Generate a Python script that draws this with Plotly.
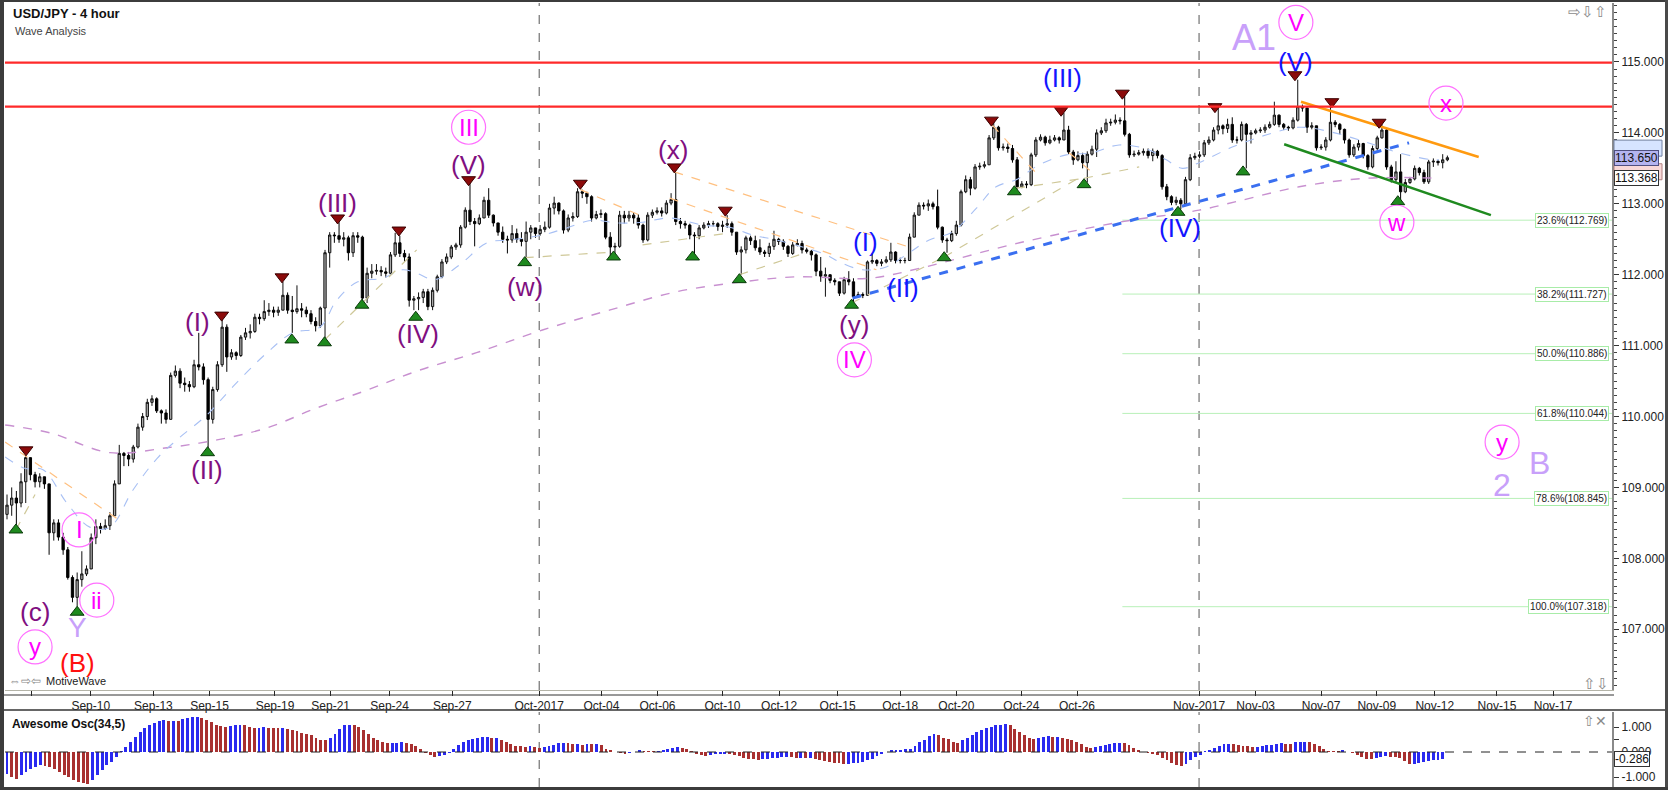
import plotly.graph_objects as go

W, H = 1668, 790
FONT = "Liberation Sans, Arial, sans-serif"

# ---------------- price data (4h bars, index = bar number) ----------------
open0 = 108.62
closes = [
 108.75,108.85,108.78,109.08,109.42,109.18,109.08,109.15,109.05,108.36,
 108.50,108.30,108.12,107.73,107.45,107.70,107.78,107.85,108.29,108.45,
 108.42,108.46,108.60,109.05,109.48,109.45,109.40,109.57,109.85,110.00,
 110.20,110.25,110.08,110.05,109.96,110.58,110.64,110.47,110.45,110.42,
 110.73,110.70,110.52,109.96,110.38,110.73,111.26,110.84,110.90,110.86,
 111.12,111.18,111.20,111.40,111.38,111.48,111.50,111.47,111.50,111.71,
 111.50,111.48,111.52,111.50,111.45,111.34,111.28,111.53,112.31,112.56,
 112.55,112.50,112.52,112.31,112.55,112.53,111.67,112.02,112.05,112.06,
 112.04,112.02,112.28,112.45,112.30,112.25,111.64,111.66,111.68,111.76,
 111.55,111.78,111.97,112.18,112.25,112.39,112.42,112.67,112.91,112.75,
 112.72,112.80,113.05,112.84,112.73,112.60,112.50,112.49,112.58,112.50,
 112.47,112.60,112.66,112.58,112.64,112.67,112.94,113.01,112.90,112.63,
 112.80,112.82,113.17,113.15,113.10,112.80,112.85,112.86,112.53,112.39,
 112.40,112.84,112.80,112.84,112.80,112.70,112.49,112.84,112.88,112.90,
 112.87,113.01,113.06,112.75,112.72,112.70,112.56,112.55,112.66,112.70,
 112.72,112.72,112.68,112.70,112.72,112.60,112.32,112.35,112.52,112.48,
 112.38,112.32,112.30,112.40,112.50,112.47,112.40,112.30,112.42,112.44,
 112.35,112.33,112.28,112.05,111.98,112.00,111.92,111.90,111.74,111.93,
 111.90,111.69,111.72,111.71,112.18,112.20,112.16,112.18,112.21,112.32,
 112.20,112.20,112.20,112.53,112.84,112.98,112.97,113.00,112.96,112.67,
 112.49,112.48,112.58,112.70,113.17,113.34,113.22,113.52,113.53,113.55,
 113.93,114.08,113.79,113.80,113.78,113.62,113.24,113.28,113.27,113.69,
 113.90,113.94,113.86,113.90,113.93,113.90,114.04,113.73,113.62,113.68,
 113.58,113.70,113.77,114.00,114.03,114.14,114.15,114.18,114.17,113.98,
 113.69,113.70,113.72,113.74,113.68,113.74,113.68,113.24,113.10,113.02,
 113.05,113.00,113.34,113.65,113.67,113.69,113.86,113.90,114.04,114.10,
 114.06,114.12,113.90,113.90,114.12,113.98,114.00,114.03,114.04,114.08,
 114.12,114.25,114.12,114.08,114.07,114.18,114.37,114.35,114.08,114.10,
 113.79,113.80,113.90,114.15,114.12,114.05,113.90,113.69,113.80,113.85,
 113.68,113.52,113.78,113.93,114.04,113.52,113.34,113.45,113.17,113.30,
 113.35,113.50,113.44,113.31,113.59,113.60,113.58,113.62,113.65]
highs = [
 108.90,109.00,108.95,109.20,109.45,109.35,109.22,109.20,109.12,109.00,
 108.55,108.55,108.36,108.16,107.76,107.80,108.10,107.90,108.35,108.55,
 108.50,108.55,108.65,109.10,109.60,109.50,109.50,109.60,109.90,110.05,
 110.25,110.30,110.27,110.10,110.10,110.62,110.72,110.68,110.55,110.50,
 110.80,111.18,110.75,110.55,110.42,110.78,111.40,111.30,110.95,110.92,
 111.15,111.25,111.30,111.45,111.45,111.64,111.60,111.55,111.55,111.90,
 111.75,111.70,111.85,111.60,111.55,111.50,111.40,111.55,112.35,112.60,
 112.60,112.74,112.60,112.55,112.60,112.60,112.55,112.10,112.15,112.15,
 112.12,112.10,112.32,112.59,112.55,112.35,112.30,111.70,111.75,111.80,
 111.80,111.82,112.00,112.22,112.30,112.42,112.45,112.70,112.95,113.30,
 112.80,112.85,113.10,113.22,112.85,112.70,112.68,112.55,112.70,112.65,
 112.60,112.75,112.70,112.62,112.70,112.75,113.00,113.10,113.02,112.92,
 112.85,112.88,113.22,113.20,113.17,113.12,112.90,112.92,112.88,112.60,
 112.45,112.90,112.90,112.90,112.88,112.85,112.72,112.88,112.92,112.95,
 112.95,113.05,113.15,113.45,112.80,112.76,112.72,112.60,112.70,112.74,
 112.76,112.76,112.74,112.76,112.84,112.75,112.60,112.40,112.55,112.55,
 112.55,112.50,112.35,112.45,112.62,112.52,112.50,112.42,112.46,112.50,
 112.48,112.38,112.35,112.30,112.25,112.10,111.98,111.95,111.90,111.97,
 112.05,111.95,111.76,111.75,112.20,112.30,112.22,112.22,112.26,112.45,
 112.33,112.24,112.24,112.58,112.88,113.02,113.02,113.06,113.03,113.20,
 112.68,112.52,112.62,112.76,113.20,113.40,113.38,113.56,113.58,113.60,
 113.97,114.18,114.10,113.85,113.85,113.83,113.66,113.32,113.32,113.72,
 113.94,113.98,113.96,113.96,113.97,113.95,114.28,114.10,113.76,113.74,
 113.72,113.74,113.82,114.05,114.08,114.20,114.20,114.26,114.22,114.53,
 114.00,113.75,113.76,113.78,113.78,113.78,113.76,113.70,113.28,113.12,
 113.10,113.08,113.38,113.70,113.72,113.74,113.90,113.95,114.08,114.37,
 114.12,114.20,114.22,113.95,114.16,114.14,114.04,114.06,114.08,114.12,
 114.16,114.44,114.26,114.14,114.10,114.22,114.75,114.40,114.36,114.15,
 114.08,113.84,113.94,114.44,114.18,114.14,114.06,113.92,113.84,113.90,
 113.86,113.70,113.82,113.96,114.15,114.06,113.55,113.60,113.70,113.35,
 113.38,113.54,113.52,113.48,113.62,113.64,113.62,113.70,113.68]
lows = [
 108.55,108.60,108.45,108.72,108.78,109.10,109.00,109.00,108.98,108.05,
 108.25,108.25,108.05,107.70,107.38,107.32,107.60,107.75,107.85,108.20,
 108.35,108.40,108.40,108.60,109.05,109.30,109.30,109.35,109.55,109.80,
 109.95,110.15,110.05,109.90,109.90,109.96,110.55,110.40,110.35,110.35,
 110.40,110.65,110.45,109.53,109.90,110.35,110.70,110.63,110.80,110.80,
 110.84,111.08,111.10,111.18,111.30,111.35,111.42,111.40,111.42,111.50,
 111.45,111.18,111.45,111.40,111.40,111.30,111.20,111.25,111.08,112.10,
 112.45,112.45,112.40,112.20,112.25,112.45,111.57,111.60,111.95,112.00,
 111.98,111.96,112.00,112.25,112.25,112.18,111.55,111.50,111.50,111.60,
 111.50,111.50,111.75,111.95,112.15,112.22,112.35,112.38,112.65,112.70,
 112.40,112.70,112.80,112.80,112.68,112.55,112.45,112.30,112.45,112.45,
 112.40,112.20,112.50,112.52,112.55,112.60,112.65,112.85,112.85,112.58,
 112.60,112.75,112.80,113.08,113.00,112.75,112.78,112.80,112.50,112.25,
 112.30,112.38,112.72,112.75,112.72,112.65,112.45,112.47,112.80,112.85,
 112.82,112.85,112.98,112.70,112.65,112.65,112.50,112.25,112.50,112.64,
 112.66,112.68,112.62,112.60,112.66,112.55,112.28,112.00,112.30,112.42,
 112.34,112.28,112.25,112.25,112.35,112.42,112.35,112.25,112.28,112.40,
 112.30,112.30,112.20,111.98,111.90,111.69,111.88,111.85,111.70,111.72,
 111.85,111.60,111.68,111.67,111.70,112.15,112.12,112.12,112.16,112.18,
 112.16,112.16,112.16,112.20,112.53,112.84,112.92,112.90,112.92,112.64,
 112.45,112.31,112.46,112.55,112.68,113.15,113.12,113.20,113.48,113.50,
 113.55,113.90,113.75,113.75,113.72,113.58,113.20,113.22,113.22,113.25,
 113.66,113.88,113.82,113.84,113.88,113.85,113.90,113.70,113.55,113.60,
 113.50,113.30,113.68,113.66,113.97,114.00,114.10,114.12,114.12,113.95,
 113.65,113.66,113.68,113.68,113.64,113.60,113.64,113.20,113.05,112.98,
 112.98,112.92,113.00,113.32,113.62,113.64,113.66,113.83,113.88,113.98,
 113.98,114.00,113.86,113.85,113.88,113.50,113.85,113.98,114.00,114.00,
 114.06,114.10,114.08,114.04,114.03,114.05,114.16,114.30,114.00,114.05,
 113.75,113.76,113.75,113.88,114.08,113.98,113.85,113.65,113.66,113.75,
 113.64,113.48,113.50,113.75,113.92,113.48,113.30,113.30,113.05,113.15,
 113.28,113.33,113.40,113.28,113.28,113.52,113.54,113.50,113.60]

# Awesome oscillator (34,5) values, one per bar
ao = [
 -0.87,-1.0,-1.07,-0.93,-0.8,-0.67,-0.6,-0.53,-0.56,-0.6,
 -0.67,-0.8,-0.93,-1.0,-1.13,-1.2,-1.24,-1.27,-1.13,-0.93,
 -0.73,-0.53,-0.4,-0.2,0.02,0.2,0.4,0.6,0.8,0.97,
 1.07,1.16,1.23,1.27,1.26,1.26,1.25,1.32,1.37,1.4,
 1.41,1.38,1.29,1.2,1.07,1.03,1.0,1.03,1.07,1.1,
 1.07,1.0,0.97,0.98,0.99,0.97,0.96,0.95,0.96,0.93,
 0.87,0.83,0.77,0.73,0.67,0.57,0.5,0.49,0.56,0.73,
 0.93,1.07,1.1,1.07,1.0,0.89,0.73,0.57,0.49,0.4,
 0.36,0.37,0.38,0.39,0.37,0.33,0.23,0.13,-0.03,-0.13,
 -0.2,-0.17,-0.1,-0.03,0.13,0.27,0.4,0.49,0.53,0.56,
 0.6,0.61,0.56,0.56,0.49,0.4,0.31,0.24,0.23,0.22,
 0.23,0.2,0.17,0.2,0.23,0.29,0.36,0.37,0.36,0.31,
 0.31,0.3,0.33,0.32,0.33,
 0.27,0.13,0.07,0.0,-0.04,-0.07,-0.04,0.0,0.07,0.04,
 0.03,0.01,0.03,0.07,0.12,0.16,0.19,0.18,0.11,0.03,
 -0.07,-0.13,-0.17,-0.13,-0.09,-0.07,-0.06,-0.09,-0.11,-0.17,
 -0.24,-0.27,-0.29,-0.31,-0.29,-0.27,-0.25,-0.24,-0.2,-0.2,
 -0.21,-0.23,-0.23,-0.24,-0.24,-0.27,-0.31,-0.36,-0.4,-0.43,
 -0.45,-0.49,-0.47,-0.45,-0.43,-0.39,-0.33,-0.27,-0.17,-0.09,
 0.0,0.07,0.07,0.09,0.11,0.13,0.23,0.4,0.49,0.63,
 0.73,0.69,0.57,0.51,0.4,0.37,0.47,0.57,0.67,0.8,
 0.89,0.96,1.0,1.07,1.09,1.11,1.07,0.93,0.8,0.67,
 0.57,0.51,0.56,0.6,0.63,0.6,0.6,0.57,0.53,0.49,
 0.4,0.31,0.2,0.17,0.2,0.23,0.27,0.33,0.37,0.37,
 0.36,0.27,0.17,0.09,0.0,-0.03,-0.07,-0.13,-0.23,-0.33,
 -0.44,-0.53,-0.57,-0.47,-0.33,-0.2,
 -0.13,0.03,0.09,0.17,0.25,0.31,0.32,0.31,0.28,0.25,
 0.23,0.22,0.22,0.24,0.28,0.29,0.32,0.36,0.33,0.31,
 0.4,0.41,0.41,0.4,0.33,0.23,0.13,0.04,0.03,0.02,
 0.07,0.0,-0.04,-0.11,-0.2,-0.27,-0.28,-0.23,-0.2,-0.17,
 -0.18,-0.2,-0.23,-0.36,-0.49,-0.47,-0.44,-0.4,-0.36,-0.33,
 -0.31,-0.28]
ao_last_bar = 307  # bar index of the last oscillator column

# moving averages (bar index, price)
ma_fast_x = [-0.4,3.8,7.7,12.8,17.7,22.0,26.9,32.1,36.3,42.7,48.3,55.6,61.1,66.9,70.5,75.0,80.3,84.6,87.6,
             91.5,96.8,102.6,107.5,114.5,119.7,125.2,130.3,135.9,141.7,148.7,154.5,159.4,164.5,170.1,175.2,
             178.0,182.9,188.0,192.9,197.2,202.1,207.3,211.5,215.8,220.7,226.5,232.1,237.8,244.2,247.9,
             251.3,254.9,262.0,269.2,276.3,283.3,290.6,297.6,304.7,306.2]
ma_fast_y = [109.43,109.27,109.25,108.78,108.44,108.44,108.96,109.41,109.67,110.02,110.42,110.90,111.18,111.26,
             111.64,111.90,111.95,112.07,112.02,111.93,112.14,112.45,112.49,112.56,112.66,112.77,112.73,112.74,
             112.80,112.70,112.67,112.56,112.49,112.39,112.28,112.18,112.07,112.11,112.31,112.49,112.60,112.94,
             113.24,113.34,113.55,113.69,113.72,113.83,113.76,113.62,113.50,113.58,113.80,113.97,114.08,114.01,
             113.87,113.72,113.62,113.62]
ma_slow_x = [-0.4,9.2,22.0,34.2,44.9,55.6,66.2,76.9,87.6,100.4,114.5,128.8,143.2,157.3,168.8,184.4,195.1,
             216.5,237.8,254.9,262.8,276.3,290.6,306.2]
ma_slow_y = [109.88,109.77,109.49,109.56,109.67,109.84,110.12,110.37,110.64,110.90,111.22,111.50,111.76,111.90,
             111.97,111.95,112.09,112.45,112.74,112.91,113.03,113.24,113.36,113.36]

# drawn studies: (x0, y0, x1, y1) in bar index / price
orange_dashed = [(-0.4,109.64,24.6,108.51),(122.6,113.20,135.3,112.84),(142.7,113.45,192.9,112.39),
                 (141.7,113.08,185.9,112.07),(210.7,114.11,220.1,113.43),(227.1,113.72,232.1,113.44)]
khaki_dashed = [(1.9,108.40,6.0,108.90),(67.9,111.08,87.6,112.35),(110.7,112.24,129.7,112.32),
                (135.9,112.42,154.5,112.59),(156.6,112.00,169.4,112.28),(180.6,111.60,200.4,112.25),
                (200.4,112.25,230.3,113.41),(215.8,113.22,230.3,113.36),(230.3,113.36,242.1,113.52)]
blue_trend = (180.8,111.67,299.8,113.86)
orange_line = (276.7,114.44,314.7,113.66)
green_line = (273.1,113.84,317.3,112.84)
resistance = [114.99, 114.37]

fib_start = 238.5
fib_levels = [112.769,111.727,110.886,110.044,108.845,107.318]
fib_names = ["23.6%","38.2%","50.0%","61.8%","78.6%","100.0%"]

# swing markers
peak_x = [4.06,45.9,58.8,70.7,83.8,98.7,122.6,142.7,153.6,210.5,225.4,238.5,258.3,275.4,283.3,293.4]
peak_y = [109.53,111.43,111.97,112.80,112.63,113.34,113.29,113.52,112.91,114.18,114.32,114.56,114.37,114.82,114.44,114.15]
trough_x = [1.9,15.0,42.9,60.9,67.9,75.9,87.4,110.7,129.7,146.6,156.6,180.6,200.4,215.4,230.3,250.4,264.3,297.4]
trough_y = [108.40,107.24,109.49,111.08,111.04,111.57,111.40,112.17,112.25,112.25,111.93,111.57,112.24,113.17,113.27,112.88,113.45,113.03]

# wave labels
purple_labels = [("(c)",6.0,107.24),("(I)",40.8,111.33),("(II)",42.7,109.25),("(III)",70.7,113.01),
                 ("(IV)",87.8,111.16),("(V)",98.7,113.55),("(w)",110.7,111.83),("(x)",142.5,113.76),("(y)",181.2,111.29)]
blue_labels = [("(I)",183.5,112.46),("(II)",191.5,111.81),("(III)",225.6,114.77),("(IV)",250.9,112.66),("(V)",275.6,115.0)]
circled_labels = [("I",15.4,108.40),("ii",19.2,107.41),("y",6.0,106.75),("III",98.7,114.08),("IV",181.2,110.80),
                  ("V",275.6,115.56),("x",307.7,114.42),("w",297.2,112.74),("y",319.7,109.64)]
lavender_labels = [("A1",266.7,115.35,36),("Y",15.0,107.03,28),("2",319.7,109.03,32),("B",327.6,109.34,32)]
red_labels = [("(B)",15.0,106.52)]

# axis ticks
tick_pos = [5.3,17.9,31.3,43.3,57.3,69.2,81.8,95.2,113.8,127.1,139.1,153.0,165.1,177.6,191.0,203.0,216.9,
            228.8,254.9,267.0,281.0,292.9,305.3,318.6,330.6]
tick_txt = ["","Sep-10","Sep-13","Sep-15","Sep-19","Sep-21","Sep-24","Sep-27","Oct-2017","Oct-04","Oct-06",
            "Oct-10","Oct-12","Oct-15","Oct-18","Oct-20","Oct-24","Oct-26","Nov-2017","Nov-03","Nov-07",
            "Nov-09","Nov-12","Nov-15","Nov-17"]
month_lines = [113.8, 254.9]
last_price, ma_price = 113.650, 113.368
hidden_tags = [(113.785, "#d6e4ff", "#7080a0"), (113.452, "#f8d8d8", "#b08080")]
ao_last = -0.286

# ---------------- build ----------------
n = min(len(closes), len(highs), len(lows))
closes, highs, lows = closes[:n], highs[:n], lows[:n]
opens = [open0] + closes[:-1]
highs = [max(h, o, c) for h, o, c in zip(highs, opens, closes)]
lows = [min(l, o, c) for l, o, c in zip(lows, opens, closes)]
xs = list(range(n))

def px(x):
    return x / W
def py(y):
    return 1 - y / H

X_RANGE = [-0.43, 343.2]
Y_RANGE = [106.143, 115.832]
XDOM = [px(5), px(1612)]
YDOM_MAIN = [py(690), py(3)]
YDOM_OSC = [py(787), py(712)]

fig = go.Figure()

def seg_trace(segs, color, width, dash):
    xx, yy = [], []
    for (a, b, c, d) in segs:
        xx += [a, c, None]
        yy += [b, d, None]
    return go.Scatter(x=xx, y=yy, mode="lines", line=dict(color=color, width=width, dash=dash),
                      hoverinfo="skip", showlegend=False)

fig.add_trace(go.Scatter(x=ma_slow_x, y=ma_slow_y, mode="lines",
                         line=dict(color="#c890d0", width=1.4, dash="dash", shape="spline"),
                         hoverinfo="skip", showlegend=False))
fig.add_trace(go.Scatter(x=ma_fast_x, y=ma_fast_y, mode="lines",
                         line=dict(color="#a8c0f4", width=1.1, dash="dash", shape="spline"),
                         hoverinfo="skip", showlegend=False))
fig.add_trace(seg_trace(orange_dashed, "#ffc080", 1.2, "dash"))
fig.add_trace(seg_trace(khaki_dashed, "#cfc898", 1.2, "dash"))

fig.add_trace(go.Candlestick(
    x=xs, open=opens, high=highs, low=lows, close=closes,
    increasing=dict(fillcolor="#a8a8a8", line=dict(color="#111111", width=1)),
    decreasing=dict(fillcolor="#000000", line=dict(color="#000000", width=1)),
    whiskerwidth=0, hoverinfo="skip", showlegend=False))

fig.add_trace(seg_trace([blue_trend], "#3a6ff0", 3, "dash"))
fig.add_trace(seg_trace([orange_line], "#ff9a10", 2.5, "solid"))
fig.add_trace(seg_trace([green_line], "#1f8a1f", 2.5, "solid"))

fig.add_trace(go.Scatter(x=peak_x, y=peak_y, mode="markers",
                         marker=dict(symbol="triangle-down", size=12, color="#8b0a0a",
                                     line=dict(color="#3a0000", width=1)),
                         hoverinfo="skip", showlegend=False))
fig.add_trace(go.Scatter(x=trough_x, y=trough_y, mode="markers",
                         marker=dict(symbol="triangle-up", size=12, color="#1e8a1e",
                                     line=dict(color="#0a3a0a", width=1)),
                         hoverinfo="skip", showlegend=False))

# Awesome oscillator
m = len(ao)
ao_x = [i * ao_last_bar / (m - 1) for i in range(m)]
ao_col = ["#2a2af0" if (i == 0 or ao[i] >= ao[i - 1]) else "#a83030" for i in range(m)]
fig.add_trace(go.Bar(x=ao_x, y=ao, marker=dict(color=ao_col, line=dict(width=0)), width=0.62,
                     xaxis="x2", yaxis="y2", hoverinfo="skip", showlegend=False))

shapes = []
for r in resistance:
    shapes.append(dict(type="line", xref="x domain", yref="y", x0=0, x1=1, y0=r, y1=r,
                       line=dict(color="#ff2a2a", width=2.2), layer="above"))
for lv in fib_levels:
    shapes.append(dict(type="line", xref="x", yref="y", x0=fib_start, x1=X_RANGE[1], y0=lv, y1=lv,
                       line=dict(color="#b8f0b8", width=1), layer="below"))
for mx in month_lines:
    shapes.append(dict(type="line", xref="x", yref="y domain", x0=mx, x1=mx, y0=0, y1=1,
                       line=dict(color="#555555", width=1, dash="dash"), layer="below"))
    shapes.append(dict(type="line", xref="x2", yref="y2 domain", x0=mx, x1=mx, y0=0, y1=1,
                       line=dict(color="#555555", width=1, dash="dash"), layer="below"))
shapes.append(dict(type="line", xref="x2 domain", yref="y2", x0=0, x1=1, y0=0, y1=0,
                   line=dict(color="#222222", width=1, dash="dash"), layer="above"))
for (t, cx, cy) in circled_labels:
    shapes.append(dict(type="circle", xref="x", yref="y", xsizemode="pixel", ysizemode="pixel",
                       xanchor=cx, yanchor=cy, x0=-17, x1=17, y0=-17, y1=17,
                       line=dict(color="#ff70ff", width=1.2)))
# partially hidden price tags (drawn as boxes behind the visible ones)
for (lv, bg, bd) in hidden_tags:
    shapes.append(dict(type="rect", xref="paper", yref="y", ysizemode="pixel",
                       yanchor=lv, x0=px(1614), x1=px(1662), y0=-8, y1=8,
                       fillcolor=bg, line=dict(color=bd, width=1), layer="above"))
frame = [
    (0, 0, 4, 790, "#3c3c3c"),
    (0, 0, 1668, 2, "#3c3c3c"),
    (1665, 0, 1668, 790, "#4a4a4a"),
    (0, 787, 1668, 790, "#3c3c3c"),
]
for (a, b, c, d, col) in frame:
    shapes.append(dict(type="rect", xref="paper", yref="paper", x0=px(a), x1=px(c), y0=py(d), y1=py(b),
                       fillcolor=col, line=dict(width=0), layer="above"))
shapes.append(dict(type="line", xref="paper", yref="paper", x0=px(4), x1=px(1614), y0=py(695), y1=py(695),
                   line=dict(color="#333333", width=1)))
shapes.append(dict(type="line", xref="paper", yref="paper", x0=px(4), x1=px(1665), y0=py(710), y1=py(710),
                   line=dict(color="#333333", width=1.5)))

ann = []
def lab(text, x, y, color, size):
    ann.append(dict(text=text, x=x, y=y, xref="x", yref="y",
                    showarrow=False, xanchor="center", yanchor="middle",
                    font=dict(family=FONT, size=size, color=color)))

for t, x, y in purple_labels:
    lab(t, x, y, "#800f80", 26)
for t, x, y in blue_labels:
    lab(t, x, y, "#1414ff", 26)
for t, x, y in circled_labels:
    lab(t, x, y, "#ff00ff", 24)
for t, x, y, s in lavender_labels:
    lab(t, x, y, "#c8a0fa", s)
for t, x, y in red_labels:
    lab(t, x, y, "#ff1010", 26)

for name, lv in zip(fib_names, fib_levels):
    ann.append(dict(text="%s(%.3f)" % (name, lv), x=px(1609), y=lv, xref="paper", yref="y",
                    xanchor="right", yanchor="middle", showarrow=False,
                    font=dict(family=FONT, size=10, color="#222222"),
                    bgcolor="#ffffff", bordercolor="#a8eca8", borderwidth=1, borderpad=1))

def paper_text(text, x, y, size, color="#222222", anchor="left"):
    ann.append(dict(text=text, x=px(x), y=py(y), xref="paper", yref="paper", showarrow=False,
                    xanchor=anchor, yanchor="middle", font=dict(family=FONT, size=size, color=color)))

paper_text("<b>USD/JPY - 4 hour</b>", 11, 14, 13, "#111111")
paper_text("Wave Analysis", 13, 31, 11, "#444444")
paper_text("<b>Awesome Osc(34,5)</b>", 10, 724, 12, "#111111")
paper_text("⇔⇨⇦", 7, 681, 12, "#888888")
paper_text("MotiveWave", 44, 681, 11, "#222222")
paper_text("⇨⇩⇧", 1566, 12, 15, "#8a8a8a")
paper_text("⇧⇩", 1581, 683, 15, "#8a8a8a")
paper_text("⇧✕", 1581, 721, 14, "#8a8a8a")

def tag(text, y, yref, bg, border):
    ann.append(dict(text=text, x=px(1614), y=y, xref="paper", yref=yref, xanchor="left", yanchor="middle",
                    showarrow=False, font=dict(family=FONT, size=12, color="#111111"),
                    bgcolor=bg, bordercolor=border, borderwidth=1, borderpad=0))

tag("%.3f" % last_price, last_price, "y", "#b4b4f0", "#505080")
tag("%.3f" % ma_price, ma_price, "y", "#ffffff", "#333333")
tag("%.3f" % ao_last, ao_last, "y2", "#ffffff", "#333333")

fig.update_layout(
    width=W, height=H, autosize=False,
    margin=dict(l=0, r=0, t=0, b=0, pad=0),
    paper_bgcolor="#ffffff", plot_bgcolor="#ffffff",
    showlegend=False, bargap=0,
    xaxis=dict(domain=XDOM, range=X_RANGE, anchor="y", showgrid=False, zeroline=False,
               tickmode="array", tickvals=tick_pos, ticktext=tick_txt, ticks="outside", ticklen=5,
               tickcolor="#222222", showline=True, linecolor="#b4b4a8", linewidth=1,
               tickfont=dict(family=FONT, size=12, color="#222222"),
               rangeslider=dict(visible=False), fixedrange=True),
    yaxis=dict(domain=YDOM_MAIN, range=Y_RANGE, anchor="x", side="right", showgrid=False, zeroline=False,
               tickmode="array", tickvals=[107,108,109,110,111,112,113,114,115], tickformat=".3f",
               ticks="outside", ticklen=5, tickcolor="#333333", showline=True, linecolor="#8a8a8a", linewidth=2,
               minor=dict(tickmode="linear", tick0=0, dtick=0.1, ticks="outside", ticklen=3,
                          tickcolor="#444444", showgrid=False),
               tickfont=dict(family=FONT, size=12, color="#222222"), fixedrange=True),
    xaxis2=dict(domain=XDOM, range=X_RANGE, anchor="y2", showgrid=False, zeroline=False,
                showticklabels=False, ticks="", showline=False, fixedrange=True),
    yaxis2=dict(domain=YDOM_OSC, range=[-1.4, 1.6], anchor="x2", side="right", showgrid=False, zeroline=False,
                tickmode="array", tickvals=[-1,-0.5,0,0.5,1], ticktext=["-1.000","","0.000","","1.000"],
                ticks="outside", ticklen=5, tickcolor="#333333", showline=True, linecolor="#8a8a8a", linewidth=2,
                tickfont=dict(family=FONT, size=12, color="#222222"), fixedrange=True),
    shapes=shapes, annotations=ann,
)

fig.write_html("out.html", config={"displayModeBar": False},
               post_script="document.body.style.margin='0px';document.body.style.overflow='hidden';")
